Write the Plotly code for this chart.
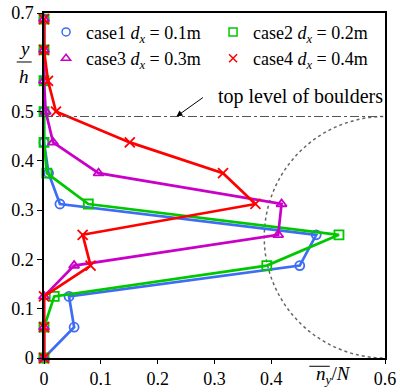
import plotly.graph_objects as go

# y levels (y/h)
y_levels = [0, 0.0625, 0.125, 0.1875, 0.25, 0.3125, 0.375, 0.4375, 0.5, 0.5625, 0.625, 0.6875]

case1 = [0, 0.053, 0.044, 0.450, 0.479, 0.028, 0.008, 0, 0, 0, 0, 0]
case2 = [0, 0, 0.018, 0.392, 0.519, 0.078, 0.005, 0, 0, 0, 0, 0]
case3 = [0, 0, 0, 0.053, 0.412, 0.418, 0.096, 0.016, 0.003, 0, 0, 0]
case4 = [0, 0, 0, 0.082, 0.068, 0.372, 0.315, 0.151, 0.021, 0.007, 0, 0]

names = ["case1 <i>d</i><sub><i>x</i></sub> = 0.1m",
         "case2 <i>d</i><sub><i>x</i></sub> = 0.2m",
         "case3 <i>d</i><sub><i>x</i></sub> = 0.3m",
         "case4 <i>d</i><sub><i>x</i></sub> = 0.4m"]
colors = ["#3d6cf5", "#00c800", "#c800c8", "#ff0000"]
symbols = ["circle-open", "square-open", "triangle-up-open", "x-thin-open"]
series = [case1, case2, case3, case4]

x_ticks = [0, 0.1, 0.2, 0.3, 0.4, 0.6]
x_ticktext = ["0", "0.1", "0.2", "0.3", "0.4", "0.6"]
y_ticks = [0, 0.1, 0.2, 0.3, 0.4, 0.5, 0.7]
y_ticktext = ["0", "0.1", "0.2", "0.3", "0.4", "0.5", "0.7"]

boulder_top = 0.49

FONT = "Liberation Serif"

fig = go.Figure()
for vals, c, s in zip(series, colors, symbols):
    fig.add_trace(go.Scatter(
        x=vals, y=y_levels, mode="lines+markers", showlegend=False,
        line=dict(color=c, width=2.7),
        marker=dict(symbol=s, size=9 if "x" not in s else 10,
                    color=c, line=dict(color=c, width=1.8)),
        cliponaxis=False))
for n, c, s in zip(names, colors, symbols):
    fig.add_trace(go.Scatter(
        x=[None], y=[None], mode="markers", name=n,
        marker=dict(symbol=s, size=8, color=c, line=dict(color=c, width=1.5))))

# top level of boulders line
fig.add_shape(type="line", xref="x", yref="y", x0=0, x1=0.6, y0=boulder_top, y1=boulder_top,
              line=dict(color="#555555", width=1, dash="dashdot"))
# boulder circle (dotted)
rx = (boulder_top / 2) * (345 / 0.7) / (341 / 0.6)
fig.add_shape(type="circle", xref="x", yref="y", x0=0.6 - rx, x1=0.6 + rx, y0=0, y1=boulder_top,
              line=dict(color="#666666", width=1.5, dash="dot"), layer="below")

# arrow annotation
fig.add_annotation(x=0.233, y=boulder_top, xref="x", yref="y", ax=28, ay=-20,
                   text="", showarrow=True, arrowhead=2, arrowsize=1.2, arrowwidth=1,
                   arrowcolor="black")
fig.add_annotation(x=0.6, y=0.53, xref="x", yref="y", xanchor="right", yanchor="middle",
                   text="top level of boulders", showarrow=False,
                   font=dict(family=FONT, size=20, color="black"))

# y/h label
fig.add_annotation(x=-0.058, y=0.898, xref="paper", yref="paper", text="<i>y</i>",
                   xanchor="center", yanchor="middle",
                   showarrow=False, font=dict(family=FONT, size=19, color="black"))
fig.add_annotation(x=-0.058, y=0.815, xref="paper", yref="paper", text="<i>h</i>",
                   xanchor="center", yanchor="middle",
                   showarrow=False, font=dict(family=FONT, size=19, color="black"))
fig.add_shape(type="line", xref="paper", yref="paper", x0=-0.080, x1=-0.036, y0=0.858, y1=0.858,
              line=dict(color="black", width=1))

# x title
fig.add_annotation(x=0.85, y=-0.050, xref="paper", yref="paper",
                   xanchor="center", yanchor="middle",
                   text="<i>n</i><sub><i>y</i></sub>/<i>N</i>", showarrow=False,
                   font=dict(family=FONT, size=19, color="black"))
fig.add_shape(type="line", xref="paper", yref="paper", x0=0.778, x1=0.838, y0=-0.024, y1=-0.024,
              line=dict(color="black", width=1))

fig.update_layout(
    width=400, height=392,
    margin=dict(l=44, r=15, t=13, b=34, autoexpand=False),
    paper_bgcolor="white", plot_bgcolor="white",
    font=dict(family=FONT, size=17, color="black"),
    showlegend=True,
    legend=dict(orientation="h", x=0.006, y=0.998, xanchor="left", yanchor="top",
                bgcolor="rgba(0,0,0,0)", entrywidth=122, itemwidth=30,
                font=dict(family=FONT, size=18, color="black"), tracegroupgap=0),
)
fig.update_xaxes(range=[0, 0.6], tickvals=x_ticks, ticktext=x_ticktext,
                 showgrid=False, zeroline=False, showline=True, mirror=True,
                 linecolor="black", linewidth=1.5, ticks="outside", ticklen=4,
                 tickcolor="black", tickfont=dict(family=FONT, size=18, color="black"))
fig.update_yaxes(range=[0, 0.7], tickvals=y_ticks, ticktext=y_ticktext,
                 showgrid=False, zeroline=False, showline=True, mirror=True,
                 linecolor="black", linewidth=1.5, ticks="outside", ticklen=5,
                 tickcolor="black", tickfont=dict(family=FONT, size=18, color="black"))

post = ("document.body.style.margin='0';document.body.style.padding='0';"
        "document.body.style.overflow='hidden';"
        "var gd=document.getElementById('{plot_id}');"
        "Plotly.relayout(gd,{width:400,height:392});")

fig.write_html("out.html", post_script=post, config={"displayModeBar": False})
